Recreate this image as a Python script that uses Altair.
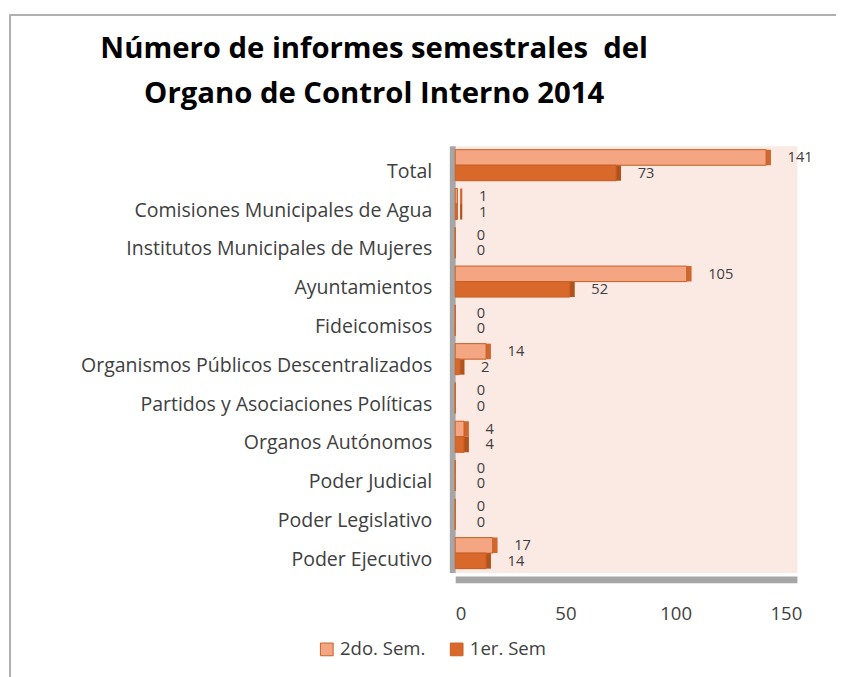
import altair as alt
import pandas as pd

categories = [
    "Total",
    "Comisiones Municipales de Agua",
    "Institutos Municipales de Mujeres",
    "Ayuntamientos",
    "Fideicomisos",
    "Organismos Públicos Descentralizados",
    "Partidos y Asociaciones Políticas",
    "Organos Autónomos",
    "Poder Judicial",
    "Poder Legislativo",
    "Poder Ejecutivo",
]
series = ["2do. Sem.", "1er. Sem"]
sem2 = [141, 1, 0, 105, 0, 14, 0, 4, 0, 0, 17]
sem1 = [73, 1, 0, 52, 0, 2, 0, 4, 0, 0, 14]
x_ticks = [0, 50, 100, 150]
title_lines = ["Número de informes semestrales\u00a0 del", "Organo de Control Interno 2014"]

front_colors = ["#F4A683", "#D8692A"]
side_colors = ["#D0672F", "#B0521B"]

rows = []
for c, a, b in zip(categories, sem2, sem1):
    rows.append({"cat": c, "serie": series[0], "v": a})
    rows.append({"cat": c, "serie": series[1], "v": b})
df = pd.DataFrame(rows)

FONT = "Open Sans"

y_enc = alt.Y(
    "cat:N",
    sort=categories,
    scale=alt.Scale(paddingInner=0.2, paddingOuter=0.1),
    axis=alt.Axis(
        title=None, ticks=False, domain=True, domainColor="#A6A6A6", domainWidth=6,
        offset=3, labelFont=FONT, labelFontSize=20, labelColor="#404040", labelPadding=21,
        labelOffset=7, labelLimit=500,
    ),
)
yoff_enc = alt.YOffset("serie:N", sort=series, scale=alt.Scale(paddingInner=0))
x_enc = alt.X(
    "v:Q",
    scale=alt.Scale(domain=[0, 155], nice=False),
    axis=alt.Axis(
        values=x_ticks, grid=False, ticks=False, domainColor="#A6A6A6", domainWidth=7,
        labelFont=FONT, labelFontSize=19, labelColor="#404040", labelPadding=26,
        offset=7, title=None,
    ),
)

base = alt.Chart(df).encode(y=y_enc, yOffset=yoff_enc)

layers = []
for s, sc in zip(series, side_colors):
    layers.append(
        base.transform_filter(alt.datum.serie == s)
        .mark_bar(xOffset=5, fill=sc)
        .encode(x=x_enc)
    )

front = base.mark_bar(stroke="#C65F24", strokeWidth=1).encode(
    x=x_enc,
    color=alt.Color(
        "serie:N",
        sort=series,
        scale=alt.Scale(domain=series, range=front_colors),
        legend=alt.Legend(
            title=None, orient="none", direction="horizontal", legendX=-141, legendY=506,
            symbolType="square", symbolSize=170, symbolStrokeColor="#C65F24", symbolStrokeWidth=1,
            labelFont=FONT, labelFontSize=19, labelColor="#404040", columnPadding=22,
        ),
    ),
)

labels = base.mark_text(align="left", baseline="middle", dx=22, font=FONT, fontSize=15, color="#404040").encode(
    x=alt.X("v:Q", scale=alt.Scale(domain=[0, 155], nice=False)),
    text="v:Q",
)

border_v = alt.Chart(df).mark_rule(color="#B0B0B0", strokeWidth=1.5).encode(
    x=alt.value(-456), y=alt.value(-134), y2=alt.value(560)
)
border_h = alt.Chart(df).mark_rule(color="#B0B0B0", strokeWidth=1.5).encode(
    x=alt.value(-456), x2=alt.value(500), y=alt.value(-134)
)

chart = alt.layer(border_v, border_h, *layers, front, labels).properties(
    width=350,
    height=437,
    autosize=alt.AutoSizeParams(type="none"),
    padding={"left": 458, "top": 133, "right": 40, "bottom": 105},
    title=alt.TitleParams(
        text=title_lines, font=FONT, fontSize=30, fontWeight="bold", color="#000000",
        anchor="middle", frame="group", dx=-258, dy=137, lineHeight=46, offset=40,
    ),
).configure(background="white").configure_view(fill="#FBE9E3", stroke="transparent")

chart.save("out.html", embed_options={"renderer": "svg", "actions": False})
